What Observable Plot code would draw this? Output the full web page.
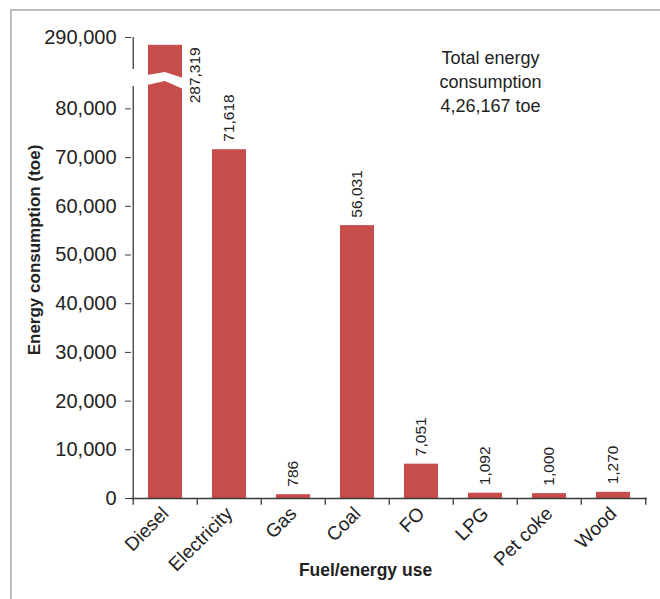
<!DOCTYPE html>
<html>
<head>
<meta charset="utf-8">
<script src="https://cdn.jsdelivr.net/npm/d3@7"></script>
<script src="https://cdn.jsdelivr.net/npm/@observablehq/plot@0.6"></script>
<style>
  html, body { margin: 0; padding: 0; background: #fff; }
  #wrap { position: relative; width: 660px; height: 599px; overflow: hidden; }
  #frame { position: absolute; left: 10px; top: 9px; width: 700px; height: 700px;
           border-top: 2px solid #bdbdbd; border-left: 2px solid #bdbdbd; pointer-events: none; }
  #chart { position: absolute; left: 0; top: 0; }
</style>
</head>
<body>
<div id="wrap"><div id="chart"></div><div id="frame"></div></div>
<script>
// ---- data ----
const categories = ["Diesel", "Electricity", "Gas", "Coal", "FO", "LPG", "Pet coke", "Wood"];
const values = [287319, 71618, 786, 56031, 7051, 1092, 1000, 1270];
const yTicks = [0, 10000, 20000, 30000, 40000, 50000, 60000, 70000, 80000, 290000];
const noteLines = ["Total energy", "consumption", "4,26,167 toe"];
const yTitle = "Energy consumption (toe)";
const xTitle = "Fuel/energy use";
// broken-axis segments: lower [0, lowerTop], upper [upperBottom, upperTop]
const lowerTop = 84600, upperBottom = 279000, upperTop = 290000;

const data = categories.map((c, i) => ({category: c, value: values[i]}));
const fmt = d3.format(",");

const W = 660, H = 599;
const mL = 131, mR = 13, mT = 37, mB = 101;
const padIn = 0.465, padOut = 0.2325;
const step = (W - mL - mR) / (categories.length - padIn + 2 * padOut);
const font = "'Liberation Sans', Arial, sans-serif";
const barColor = "#c64d4a";
const axisColor = "#3a3a3a";
const ink = "#222";

const chart = Plot.plot({
  width: W, height: H,
  marginLeft: mL, marginRight: mR, marginTop: mT, marginBottom: mB,
  style: {background: "transparent", fontFamily: font, color: ink},
  x: {type: "band", domain: categories, paddingInner: padIn, paddingOuter: padOut},
  y: {type: "linear", domain: [0, lowerTop, upperBottom, upperTop], range: [H - mB, 86, 69, mT]},
  marks: [
    Plot.barY(data, {x: "category", y: "value", fill: barColor}),
    // axis lines
    Plot.ruleY([0], {stroke: axisColor, strokeWidth: 1.3}),
    Plot.ruleX([categories[0]], {x: d => d, dx: -step / 2, y1: 0, y2: lowerTop, stroke: axisColor, strokeWidth: 1.3}),
    Plot.ruleX([categories[0]], {x: d => d, dx: -step / 2, y1: upperBottom, y2: upperTop, stroke: axisColor, strokeWidth: 1.3}),
    // x ticks at category boundaries
    Plot.ruleX(categories, {x: d => d, dx: -step / 2, y1: 0, y2: -1400, stroke: axisColor, strokeWidth: 1.3}),
    Plot.ruleX([categories[categories.length - 1]], {x: d => d, dx: step / 2, y1: 0, y2: -1400, stroke: axisColor, strokeWidth: 1.3}),
    Plot.axisY({ticks: yTicks, tickFormat: fmt, tickSize: 6, tickPadding: 9, stroke: axisColor,
                fontSize: 20, fill: ink, label: null}),
    Plot.axisX({tickSize: 0, tickRotate: -45, tickPadding: 12, fontSize: 19, fill: ink, label: null}),
    // value labels
    Plot.text(data.slice(1), {x: "category", y: "value", text: d => fmt(d.value), rotate: -90,
              textAnchor: "start", dy: -8, fontSize: 15.5, fill: ink}),
    Plot.text(data.slice(0, 1), {x: "category", y: "value", text: d => fmt(d.value), rotate: -90,
              textAnchor: "end", dx: 30, dy: 2, fontSize: 15.5, fill: ink}),
    // titles
    Plot.text([yTitle], {frameAnchor: "left", text: d => d, rotate: -90, textAnchor: "middle",
              dx: -97, dy: -18, fontSize: 17, fontWeight: "bold", fill: ink}),
    Plot.text([xTitle], {frameAnchor: "bottom", text: d => d, textAnchor: "middle", dx: -24, dy: 77,
              fontSize: 17.5, fontWeight: "bold", fill: ink}),
    Plot.text([noteLines.join("\n")], {frameAnchor: "top", text: d => d, textAnchor: "middle", dx: 101, dy: 43,
              lineAnchor: "middle", lineHeight: 1.32, fontSize: 18, fill: ink})
  ]
});
document.getElementById("chart").appendChild(chart);

// white break through the Diesel bar (placed via the scales)
const xs = chart.scale("x"), ys = chart.scale("y");
const x0 = xs.apply(categories[0]) - 1, x1 = xs.apply(categories[0]) + xs.bandwidth + 1;
const xm = (x0 + x1) / 2;
const yb = (ys.apply(lowerTop) + ys.apply(upperBottom)) / 2;
const pts = [[x0, yb - 2.5], [xm, yb - 5.5], [x1, yb + 0.5], [x1, yb + 11.5], [xm, yb + 3.5], [x0, yb + 7.5]];
d3.select(chart).append("polygon").attr("points", pts.map(p => p.join(",")).join(" ")).attr("fill", "#fff");
</script>
</body>
</html>
